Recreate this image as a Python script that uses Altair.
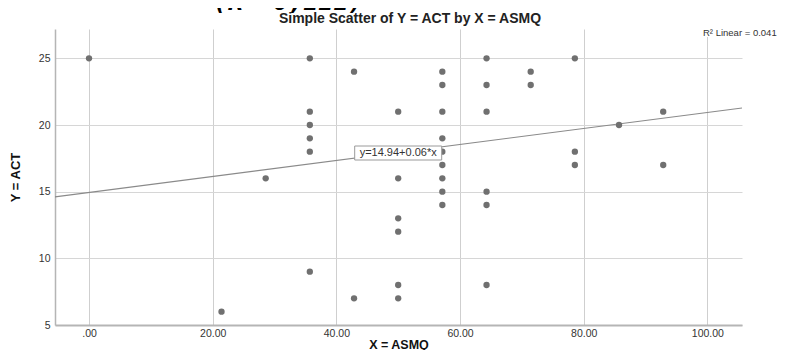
import altair as alt
import pandas as pd

# ASMQ (x) and ACT (y) values
asmq = [0.00, 21.43, 28.57,
        35.71, 35.71, 35.71, 35.71, 35.71, 35.71,
        42.86, 42.86,
        50.00, 50.00, 50.00, 50.00, 50.00, 50.00,
        57.14, 57.14, 57.14, 57.14, 57.14, 57.14, 57.14, 57.14, 57.14,
        64.29, 64.29, 64.29, 64.29, 64.29, 64.29,
        71.43, 71.43,
        78.57, 78.57, 78.57,
        85.71,
        92.86, 92.86]
act = [25, 6, 16,
       25, 21, 20, 19, 18, 9,
       24, 7,
       21, 16, 13, 12, 8, 7,
       24, 23, 21, 19, 18, 17, 16, 15, 14,
       25, 23, 21, 15, 14, 8,
       24, 23,
       25, 18, 17,
       20,
       21, 17]

x_domain = [-5.5, 105.6]
y_domain = [5, 27.2]
intercept = 14.94
slope = 0.06
eq_label = "y=14.94+0.06*x"
eq_pos = [50, 17.9]
r2_label = "R² Linear = 0.041"
top_label = "(R²=0,111)"
title_text = "Simple Scatter of  Y = ACT by X = ASMQ"

FONT = "Liberation Sans"
W, H = 687, 296

df = pd.DataFrame({"x": asmq, "y": act})
line_df = pd.DataFrame({"x": x_domain})
eq_df = pd.DataFrame({"x": [eq_pos[0]], "y": [eq_pos[1]], "t": [eq_label]})

xs = alt.Scale(domain=x_domain, nice=False, zero=False)
ys = alt.Scale(domain=y_domain, nice=False, zero=False)

x_axis = alt.Axis(values=[0, 20, 40, 60, 80, 100], title="X = ASMQ",
                  labelExpr="datum.value == 0 ? '.00' : format(datum.value, '.2f')",
                  ticks=False, labelPadding=3, labelFont=FONT, labelFontSize=10.5,
                  labelColor="#333333", titleFont=FONT, titleFontSize=12.5,
                  titleFontWeight="bold", titleColor="#111111", titlePadding=0,
                  gridColor="#cfcfcf", gridWidth=1, domainColor="#b5b5b5",
                  domainWidth=2)
y_axis = alt.Axis(values=[5, 10, 15, 20, 25], title="Y = ACT",
                  ticks=False, labelPadding=5, labelFont=FONT, labelFontSize=10.5,
                  labelColor="#333333", titleFont=FONT, titleFontSize=13,
                  titleFontWeight="bold", titleColor="#111111", titlePadding=16,
                  gridColor="#d6d6d6", gridWidth=1, domainColor="#b5b5b5",
                  domainWidth=1.5)

points = alt.Chart(df).mark_circle(size=40, color="#707070", opacity=1).encode(
    x=alt.X("x:Q", scale=xs, axis=x_axis),
    y=alt.Y("y:Q", scale=ys, axis=y_axis),
)

reg = alt.Chart(line_df).transform_calculate(
    y=f"{intercept} + {slope} * datum.x"
).mark_line(color="#8a8a8a", strokeWidth=1.2).encode(
    x=alt.X("x:Q", scale=xs), y=alt.Y("y:Q", scale=ys)
)

box = alt.Chart(eq_df).mark_rect(width=87, height=14, fill="white",
                                 stroke="#9a9a9a", strokeWidth=1).encode(
    x=alt.X("x:Q", scale=xs), y=alt.Y("y:Q", scale=ys)
)
eq_text = alt.Chart(eq_df).mark_text(font=FONT, fontSize=11, color="#333333",
                                     align="center", baseline="middle").encode(
    x=alt.X("x:Q", scale=xs), y=alt.Y("y:Q", scale=ys), text="t:N"
)

title = alt.Chart(pd.DataFrame({"t": [title_text]})).mark_text(
    font=FONT, fontSize=14, fontWeight="bold", color="#222222",
    align="center", baseline="middle").encode(
    x=alt.value(355), y=alt.value(-10), text="t:N")

r2_bg = alt.Chart(pd.DataFrame({"t": [r2_label]})).mark_rect(
    fill="white").encode(
    x=alt.value(647), x2=alt.value(687), y=alt.value(0), y2=alt.value(8))

r2 = alt.Chart(pd.DataFrame({"t": [r2_label]})).mark_text(
    font=FONT, fontSize=9.5, color="#333333", align="left",
    baseline="middle").encode(
    x=alt.value(648), y=alt.value(4), text="t:N")

top = alt.Chart(pd.DataFrame({"t": [top_label]})).mark_text(
    font="DejaVu Sans Mono", fontSize=25, fontWeight="bold", fontStyle="italic",
    color="#000000", align="left", baseline="alphabetic").encode(
    x=alt.value(158), y=alt.value(-19), text="t:N")

chart = alt.layer(reg, points, box, eq_text, title, r2_bg, r2, top).properties(
    width=W, height=H,
    autosize=alt.AutoSizeParams(type="none"),
    padding={"left": 47, "top": 21, "right": 37, "bottom": 25},
    background="white",
).configure_view(stroke=None)

chart.save("out.html", embed_options={"renderer": "svg", "actions": False})
